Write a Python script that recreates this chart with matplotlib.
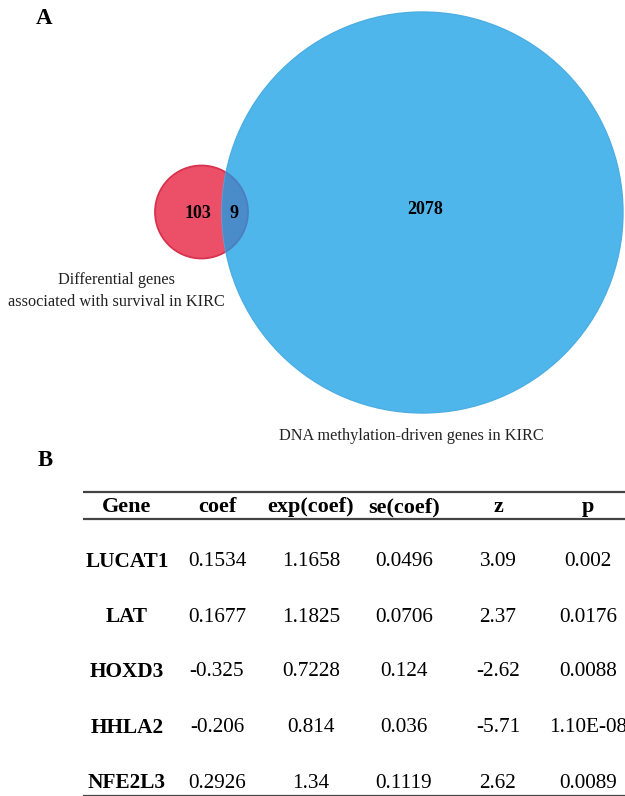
import matplotlib
matplotlib.use("Agg")
import matplotlib.pyplot as plt
from matplotlib.patches import Circle

# ---- data ----
venn_counts = {"only_left": 103, "both": 9, "only_right": 2078}
left_label = "Differential genes\nassociated with survival in KIRC"
right_label = "DNA methylation-driven genes in KIRC"

headers = ["Gene", "coef", "exp(coef)", "se(coef)", "z", "p"]
genes = ["LUCAT1", "LAT", "HOXD3", "HHLA2", "NFE2L3"]
coef = ["0.1534", "0.1677", "-0.325", "-0.206", "0.2926"]
exp_coef = ["1.1658", "1.1825", "0.7228", "0.814", "1.34"]
se_coef = ["0.0496", "0.0706", "0.124", "0.036", "0.1119"]
z_vals = ["3.09", "2.37", "-2.62", "-5.71", "2.62"]
p_vals = ["0.002", "0.0176", "0.0088", "1.10E-08", "0.0089"]

W, H = 625, 796
fig = plt.figure(figsize=(W / 100, H / 100), dpi=100)
ax = fig.add_axes([0, 0, 1, 1])
ax.set_xlim(0, W)
ax.set_ylim(H, 0)
ax.set_aspect("equal")
ax.axis("off")

serif = ["Liberation Serif", "DejaVu Serif"]

# ---- Panel A: Venn ----
blue = Circle((422.5, 212.5), 200.5, facecolor="#4FB6EB", edgecolor="#4CAEE3", lw=1, zorder=2)
red = Circle((201.5, 212), 46.5, facecolor="#EC5069", edgecolor="#D8324D", lw=1.3, zorder=1)
ax.add_patch(red)
ax.add_patch(blue)
overlap = Circle((201.5, 212), 46.5, facecolor="#4A8BC9", edgecolor="#4A7FC0", lw=1.3, zorder=3)
ax.add_patch(overlap)
overlap.set_clip_path(blue)

ax.text(198, 214, str(venn_counts["only_left"]), ha="center", va="center",
        fontsize=13, fontweight="bold", family=serif, zorder=5)
ax.text(234, 213, str(venn_counts["both"]), ha="center", va="center",
        fontsize=13, fontweight="bold", family=serif, zorder=5)
ax.text(425, 210, str(venn_counts["only_right"]), ha="center", va="center",
        fontsize=13, fontweight="bold", family=serif, zorder=5)

ax.text(116, 291, left_label, ha="center", va="center", fontsize=11.7,
        family=serif, linespacing=1.45, color="#222222")
ax.text(411, 436, right_label, ha="center", va="center", fontsize=11.7,
        family=serif, color="#222222")

ax.text(44, 19, "A", ha="center", va="center", fontsize=16.5, fontweight="bold", family=serif)
ax.text(45, 461, "B", ha="center", va="center", fontsize=16.5, fontweight="bold", family=serif)

# ---- Panel B: table ----
col_x = [127, 217, 311, 404, 498, 588]
header_y = 507
row_y = [562, 617, 672, 728, 783]

ax.hlines([492, 519], 83, W, colors="#444444", lw=1.6)
ax.hlines([795.5], 83, W, colors="#444444", lw=1.6)

for x, h in zip(col_x, headers):
    ax.text(x, header_y, h, ha="center", va="center", fontsize=16,
            fontweight="bold", family=serif)

columns = [coef, exp_coef, se_coef, z_vals, p_vals]
for i, y in enumerate(row_y):
    ax.text(col_x[0], y, genes[i], ha="center", va="center", fontsize=15.3,
            fontweight="bold", family=serif)
    for j, col in enumerate(columns):
        ax.text(col_x[j + 1], y, col[i], ha="center", va="center",
                fontsize=15.3, family=serif)

fig.savefig("out.png", dpi=100)
